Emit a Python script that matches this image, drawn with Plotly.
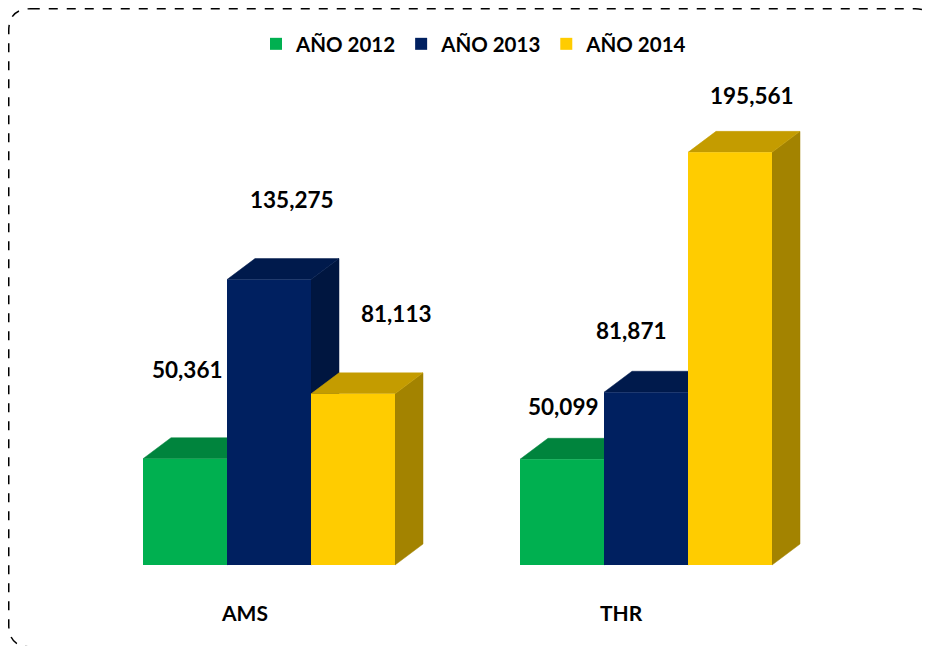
import plotly.graph_objects as go

# ---- data ----
categories = ["AMS", "THR"]
series_names = ["AÑO 2012", "AÑO 2013", "AÑO 2014"]
values_2012 = [50361, 50099]
values_2013 = [135275, 81871]
values_2014 = [81113, 195561]
series_values = [values_2012, values_2013, values_2014]

# ---- style ----
front_colors = ["#00B050", "#002060", "#FFCC00"]
top_colors = ["#00843D", "#001A4C", "#C49C00"]
side_colors = ["#006B31", "#001640", "#A38300"]

W, H = 930, 646
OFF = 8.0                       # page body margin
PX_PER_UNIT_X = 377.0           # pixels between category centres
PX_PER_VAL = 0.00211            # pixels per unit of value
X0_PX, Y0_PX = 269.0 - OFF, 565.0 - OFF   # first category centre / baseline
BAR_W = 84.0 / PX_PER_UNIT_X
DEPTH_X = 28.0 / PX_PER_UNIT_X
DEPTH_Y = 21.0 / PX_PER_VAL

x_range = [-X0_PX / PX_PER_UNIT_X, (W - X0_PX) / PX_PER_UNIT_X]
y_range = [-(H - Y0_PX) / PX_PER_VAL, Y0_PX / PX_PER_VAL]

# per-label pixel shifts (Excel 3D label placement)
label_shift = [[(2, -89), (1, -53)], [(23, -80), (-15, -62)], [(43, -80), (22, -57)]]

FONT = "Lato"

fig = go.Figure()

# side and top faces (drawn below the fronts)
for j, vals in enumerate(series_values):
    for i, v in enumerate(vals):
        xc = i + (j - 1) * BAR_W
        x0, x1 = xc - BAR_W / 2, xc + BAR_W / 2
        fig.add_trace(go.Scatter(
            x=[x1, x1 + DEPTH_X, x1 + DEPTH_X, x1, x1],
            y=[0, DEPTH_Y, v + DEPTH_Y, v, 0],
            fill="toself", fillcolor=side_colors[j], mode="lines",
            line=dict(width=0.5, color=side_colors[j]),
            showlegend=False, hoverinfo="skip"))
        fig.add_trace(go.Scatter(
            x=[x0, x0 + DEPTH_X, x1 + DEPTH_X, x1, x0],
            y=[v, v + DEPTH_Y, v + DEPTH_Y, v, v],
            fill="toself", fillcolor=top_colors[j], mode="lines",
            line=dict(width=0.5, color=top_colors[j]),
            showlegend=False, hoverinfo="skip"))

# front faces as bars on an overlaying axis pair (drawn on top)
for j, vals in enumerate(series_values):
    fig.add_trace(go.Bar(
        x=[i + (j - 1) * BAR_W for i in range(len(categories))],
        y=vals, width=BAR_W, name=series_names[j],
        marker=dict(color=front_colors[j], line=dict(width=0)),
        xaxis="x2", yaxis="y2"))

# value labels
for j, vals in enumerate(series_values):
    for i, v in enumerate(vals):
        sx, sy = label_shift[j][i]
        fig.add_annotation(
            x=i + (j - 1) * BAR_W, y=v, xref="x2", yref="y2",
            text=f"{v:,}", showarrow=False,
            xshift=sx, yshift=-sy,
            font=dict(family=FONT, size=22.5, color="#000000", weight="bold"))

# category labels
for i, c in enumerate(categories):
    fig.add_annotation(
        x=i - 25.0 / PX_PER_UNIT_X, y=-(612 - OFF - Y0_PX) / PX_PER_VAL,
        xref="x", yref="y", text=c, showarrow=False,
        font=dict(family=FONT, size=21, color="#000000", weight="bold"))

# dashed rounded border
def px(x):
    return x / W

def py(y):
    return 1 - y / H

L, T, R, B, r = 0.75, 0.75, 929, 639, 22
path = (f"M {px(L + r)},{py(T)} L {px(R - r)},{py(T)} "
        f"Q {px(R)},{py(T)} {px(R)},{py(T + r)} "
        f"L {px(R)},{py(B - r)} Q {px(R)},{py(B)} {px(R - r)},{py(B)} "
        f"L {px(L + r)},{py(B)} Q {px(L)},{py(B)} {px(L)},{py(B - r)} "
        f"L {px(L)},{py(T + r)} Q {px(L)},{py(T)} {px(L + r)},{py(T)} Z")
fig.add_shape(type="path", path=path, xref="paper", yref="paper",
              line=dict(color="#000000", width=1.5, dash="dash"))

axis_common = dict(showgrid=False, zeroline=False, showticklabels=False,
                   showline=False, ticks="", fixedrange=True)
fig.update_layout(
    width=W, height=H,
    margin=dict(l=0, r=0, t=0, b=0),
    paper_bgcolor="white", plot_bgcolor="white",
    barmode="overlay",
    xaxis=dict(range=x_range, **axis_common),
    yaxis=dict(range=y_range, **axis_common),
    xaxis2=dict(range=x_range, overlaying="x", **axis_common),
    yaxis2=dict(range=y_range, overlaying="y", **axis_common),
    legend=dict(orientation="h", x=(474 - OFF) / W, xanchor="center",
                y=1 - (44 - OFF) / H, yanchor="middle",
                bgcolor="rgba(0,0,0,0)",
                font=dict(family=FONT, size=20.5, color="#000000", weight="bold")),
)

fig.write_html("out.html")
